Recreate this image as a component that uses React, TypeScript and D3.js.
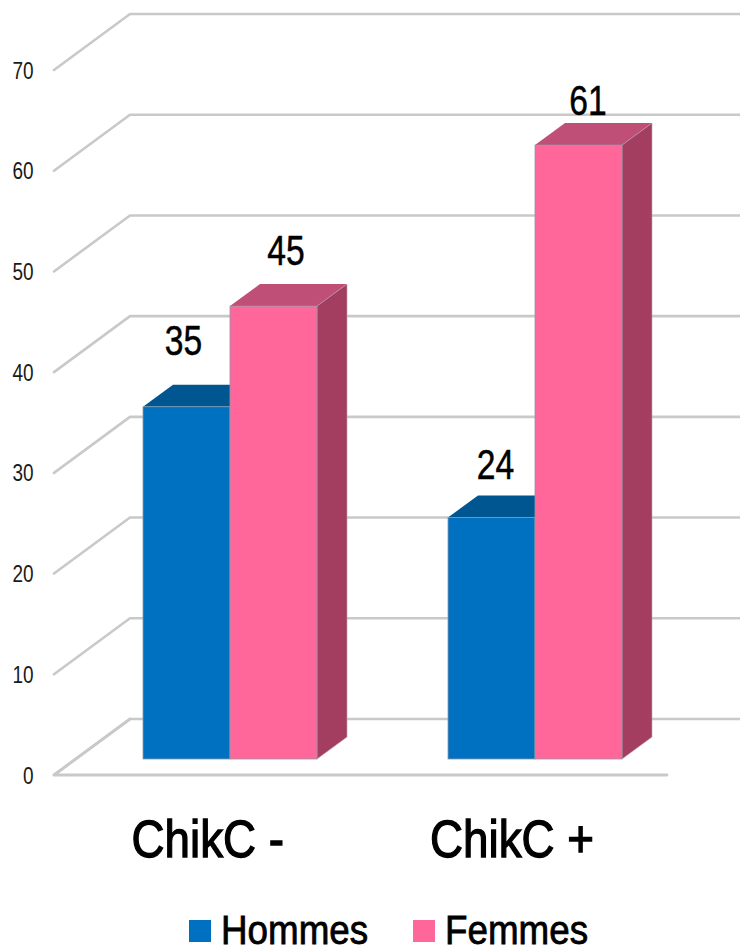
import React from "react";
import * as d3 from "d3";

const categories = ["ChikC -", "ChikC +"];
const seriesNames = ["Hommes", "Femmes"];
const hommes = [35, 24];
const femmes = [45, 61];
const ticks = [0, 10, 20, 30, 40, 50, 60, 70];

const faces: Record<string, { front: string; top: string; side: string }> = {
  Hommes: { front: "#0070c0", top: "#005690", side: "#00538f" },
  Femmes: { front: "#ff6699", top: "#c04f78", side: "#a33e60" },
};

// Hand-placed value labels: shift from the bar's centre and gap above its top edge.
const labelPlacement: Record<string, { dx: number; gap: number }[]> = {
  Hommes: [
    { dx: -3, gap: 52 },
    { dx: 4, gap: 38.5 },
  ],
  Femmes: [
    { dx: 12.5, gap: 41 },
    { dx: 9.5, gap: 30 },
  ],
};

const FONT = "'Liberation Sans', Arial, sans-serif";
const DX = 30;
const DY = -22;

// Condensed text: the regular sans squeezed horizontally around its anchor.
function NarrowText(props: {
  x: number;
  y: number;
  size: number;
  squeeze: number;
  anchor?: "start" | "middle" | "end";
  weight?: number;
  fill?: string;
  children: React.ReactNode;
}) {
  const { x, y, size, squeeze, anchor = "start", weight = 0, fill = "#000", children } = props;
  return (
    <text
      transform={`translate(${x},${y}) scale(${squeeze},1)`}
      textAnchor={anchor}
      fontSize={size}
      fill={fill}
      stroke={weight ? fill : "none"}
      strokeWidth={weight}
    >
      {children}
    </text>
  );
}

export default function App() {
  const yBar = d3.scaleLinear().domain([0, 70]).range([759, 54.5]);
  const yWall = d3.scaleLinear().domain([0, 70]).range([719, 14]);
  const yFront = d3.scaleLinear().domain([0, 70]).range([775, 70]);
  const xGroup = d3.scaleBand().domain(categories).range([77.5, 687.5]);
  const xSeries = d3.scaleBand().domain(seriesNames).range([65.5, 239.5]);
  const values: Record<string, number[]> = { Hommes: hommes, Femmes: femmes };

  const wallPath = (t: number) =>
    d3.line()([
      [54, yFront(t)],
      [130, yWall(t)],
      [740, yWall(t)],
    ]) ?? "";

  return (
    <svg
      width={740}
      height={948}
      style={{ position: "absolute", left: 0, top: 0, background: "#fff" }}
      fontFamily={FONT}
    >
      {ticks.map((t) => (
        <g key={t}>
          <path d={wallPath(t)} fill="none" stroke="#c9c9c9" strokeWidth={2.6} strokeLinejoin="round" strokeLinecap="round" />
          <NarrowText x={33.5} y={yFront(t) + 8.5} size={24} squeeze={0.79} anchor="end" fill="#1a1a1a">
            {t}
          </NarrowText>
        </g>
      ))}
      <path
        d={d3.line()([[130, yWall(0)], [54, yFront(0)], [667, yFront(0)]]) ?? ""}
        fill="none"
        stroke="#c9c9c9"
        strokeWidth={2.8}
        strokeLinecap="round"
        strokeLinejoin="round"
      />

      {categories.map((c, i) =>
        seriesNames.map((s) => {
          const v = values[s][i];
          const x0 = (xGroup(c) ?? 0) + (xSeries(s) ?? 0);
          const w = xSeries.bandwidth();
          const top = yBar(v);
          const base = yBar(0);
          const f = faces[s];
          return (
            <g key={c + s}>
              <polygon
                points={`${x0},${top} ${x0 + DX},${top + DY} ${x0 + w + DX},${top + DY} ${x0 + w},${top}`}
                fill={f.top}
              />
              <polygon
                points={`${x0 + w},${top} ${x0 + w + DX},${top + DY} ${x0 + w + DX},${base + DY} ${x0 + w},${base}`}
                fill={f.side}
                stroke="#b9a5ac"
                strokeWidth={0.6}
              />
              <rect x={x0} y={top} width={w} height={base - top} fill={f.front} stroke="#8c9aa8" strokeWidth={0.8} />
            </g>
          );
        })
      )}

      {categories.map((c, i) =>
        seriesNames.map((s) => {
          const v = values[s][i];
          const x0 = (xGroup(c) ?? 0) + (xSeries(s) ?? 0);
          const place = labelPlacement[s][i];
          return (
            <NarrowText
              key={c + s}
              x={x0 + xSeries.bandwidth() / 2 + place.dx}
              y={yBar(v) - place.gap}
              size={42}
              squeeze={0.8}
              anchor="middle"
              weight={0.5}
            >
              {v}
            </NarrowText>
          );
        })
      )}

      {categories.map((c, i) => (
        <NarrowText key={c} x={i === 0 ? 131.5 : 430} y={856.5} size={52} squeeze={0.88} weight={1.3}>
          {c}
        </NarrowText>
      ))}

      {seriesNames.map((s, i) => {
        const x = [189, 413][i];
        return (
          <g key={s}>
            <rect x={x} y={920} width={22} height={22} fill={faces[s].front} />
            <NarrowText x={x + 32} y={944} size={40} squeeze={0.92} weight={0.8}>
              {s}
            </NarrowText>
          </g>
        );
      })}
    </svg>
  );
}
